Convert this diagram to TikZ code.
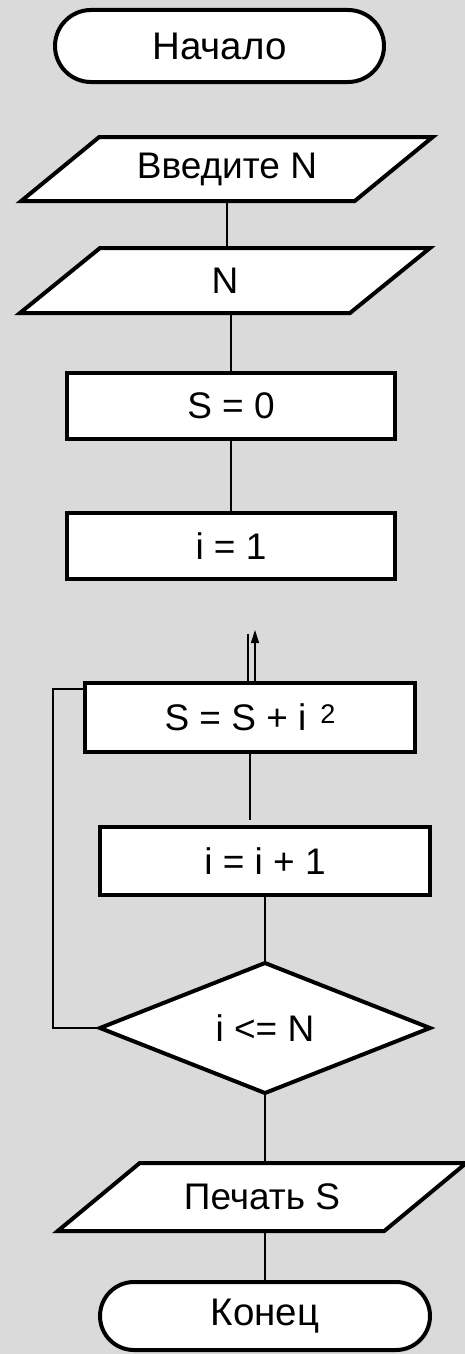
\documentclass[tikz,border=0pt]{standalone}
\usepackage{fontspec}
\setmainfont{Liberation Sans}
\usetikzlibrary{shapes.geometric,shapes.misc,arrows.meta,calc}
\definecolor{bggray}{RGB}{218,218,218}
\tikzset{
  txt/.style={font=\fontsize{37}{40}\selectfont, inner sep=0pt, outer sep=0pt},
  term/.style={txt, shape=rounded rectangle, draw, line width=4pt, fill=white, font=\fontsize{38.5}{42}\selectfont},
  proc/.style={txt, rectangle, draw, line width=4pt, fill=white},
  dec/.style={txt, diamond, draw, line width=4pt, fill=white},
  pgbox/.style={draw, line width=4pt, fill=white},
  conn/.style={draw, line width=1.3pt}
}
\newcommand{\pgram}[5]{\path[pgbox] (#1-#3/2+#5/2, #2-#4/2) -- (#1+#3/2+#5/2, #2-#4/2) -- (#1+#3/2-#5/2, #2+#4/2) -- (#1-#3/2-#5/2, #2+#4/2) -- cycle;}
\begin{document}
\begin{tikzpicture}[x=1pt,y=-1pt]
\path[use as bounding box, fill=bggray] (0,0) rectangle (465,1354);

\node[term, minimum width=329pt, minimum height=72pt] (start) at (219.5,46) {Начало};

\pgram{227}{169}{333.5}{64}{78}
\node[txt, minimum width=333.5pt, minimum height=64pt] (inp1) at (227,169) {Введите N};

\pgram{225}{280.5}{330}{65}{80}
\node[txt, minimum width=330pt, minimum height=65pt] (inp2) at (225,280.5) {N};

\node[proc, minimum width=328pt, minimum height=66pt] (s0) at (231,406) {S = 0};
\node[proc, minimum width=328pt, minimum height=66pt] (i1) at (231,546) {i = 1};

\node[proc, minimum width=330pt, minimum height=69pt] (sum) at (250,717.5) {S = S + i\hspace{14pt}\raisebox{7pt}{\fontsize{27}{27}\selectfont 2}};
\node[proc, minimum width=330pt, minimum height=68pt] (inc) at (265,861) {i = i + 1};
\node[dec, minimum width=330pt, minimum height=130pt] (cond) at (265,1028) {i <= N};

\pgram{262}{1197}{326.5}{68}{82}
\node[txt, minimum width=326.5pt, minimum height=68pt] (out) at (262,1197) {Печать S};

\node[term, minimum width=330pt, minimum height=68pt] (end) at (265,1316) {Конец};

% connectors
\draw[conn] (inp1.south) -- (inp1.south |- inp2.north);
\draw[conn] (s0.north) -- (s0.north |- inp2.south);
\draw[conn] (s0.south) -- (i1.north);
\draw[conn] ($(sum.north)+(-2,0)$) -- ++(0,-49);
\draw[conn, -{Triangle[width=8pt,length=13pt]}] ($(sum.north)+(5,0)$) -- ++(0,-53);
\draw[conn] (sum.south) -- ($(sum.south |- inc.north)+(0,-7)$);
\draw[conn] (inc.south) -- (cond.north);
\draw[conn] (cond.south) -- (cond.south |- out.north);
\draw[conn] (end.north) -- (end.north |- out.south);
\draw[conn] (cond.west) -- ++(-47,0) |- ($(sum.north west)+(0,6)$);
\end{tikzpicture}
\end{document}
